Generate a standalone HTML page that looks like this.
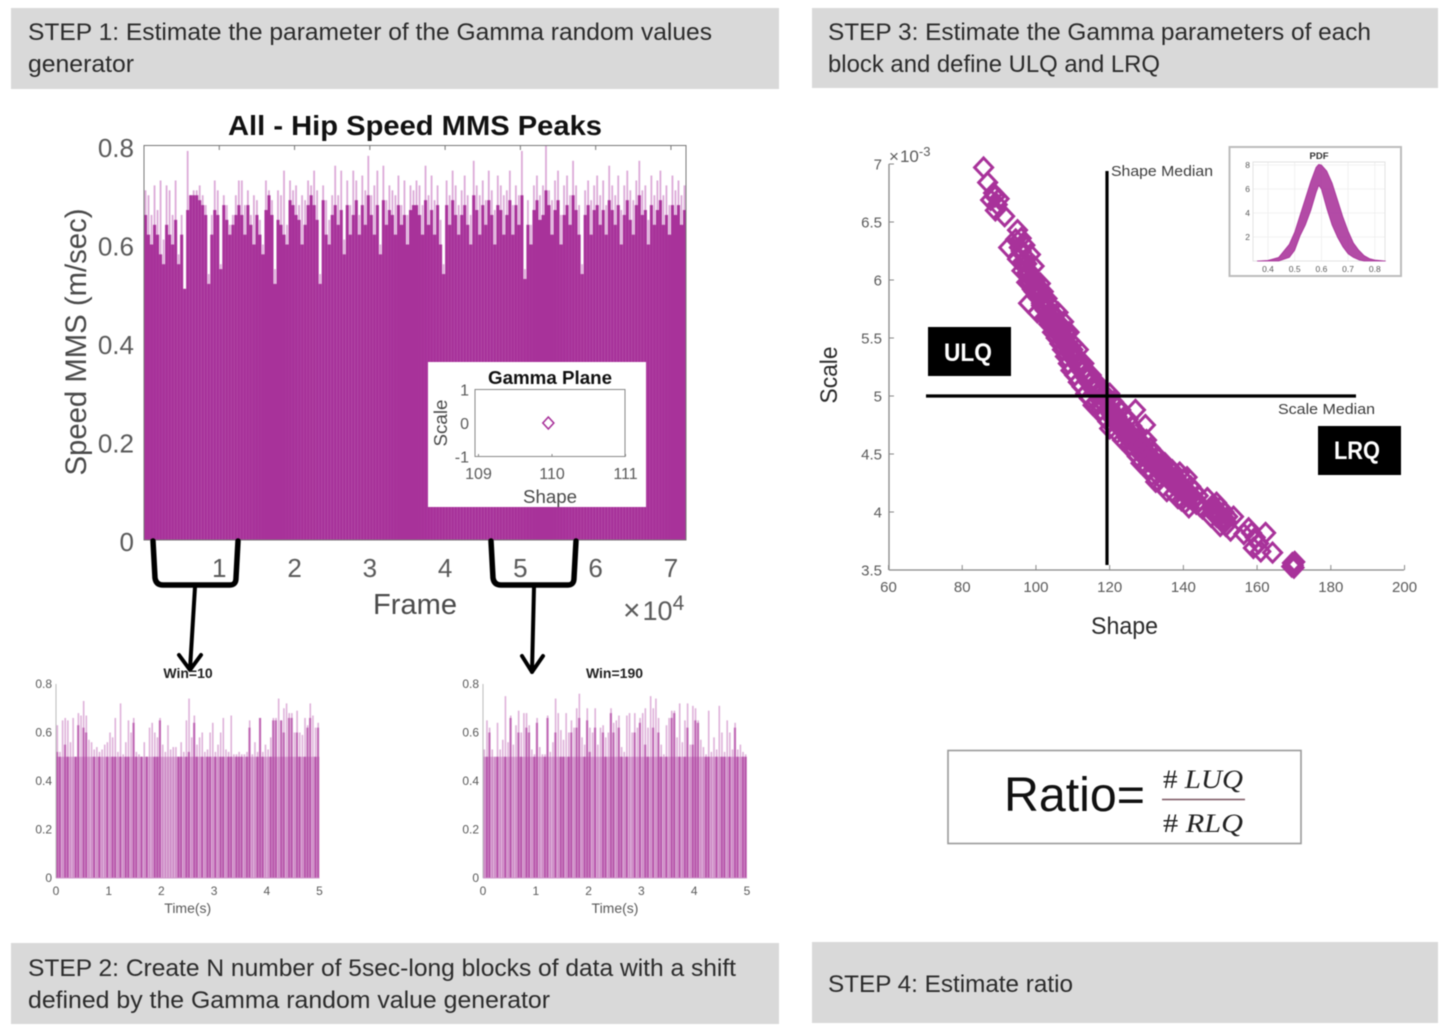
<!DOCTYPE html>
<html lang="en">
<head>
<meta charset="utf-8">
<title>Gamma ratio estimation steps</title>
<style>
html,body{margin:0;padding:0;background:#fff;width:1445px;height:1034px;overflow:hidden}
svg{display:block;filter:blur(.45px);font-family:"Liberation Sans",sans-serif}
.step{font-size:24px;fill:#2b2b2b}
.tick{fill:#5a5a5a}
</style>
</head>
<body>
<svg id="figure" xmlns="http://www.w3.org/2000/svg" width="1445" height="1034" viewBox="0 0 1445 1034">
  <rect x="0" y="0" width="1445" height="1034" fill="#fff"/>

  <g>
    <rect x="11" y="8" width="768" height="81" fill="#d9d9d9"/>
    <text class="step" x="28" y="40" textLength="684" lengthAdjust="spacingAndGlyphs">STEP 1:  Estimate the parameter of the Gamma random values</text>
    <text class="step" x="28" y="72" textLength="106" lengthAdjust="spacingAndGlyphs">generator</text>
  </g>
  <g>
    <rect x="812" y="8" width="626" height="80" fill="#d9d9d9"/>
    <text class="step" x="828" y="40" textLength="543" lengthAdjust="spacingAndGlyphs">STEP 3:  Estimate the Gamma parameters of each</text>
    <text class="step" x="828" y="72" textLength="332" lengthAdjust="spacingAndGlyphs">block and define ULQ and LRQ</text>
  </g>
  <g>
    <rect x="11" y="943" width="768" height="81" fill="#d9d9d9"/>
    <text class="step" x="28" y="976" textLength="708" lengthAdjust="spacingAndGlyphs">STEP 2:  Create N number of 5sec-long blocks of data with a shift</text>
    <text class="step" x="28" y="1008" textLength="522" lengthAdjust="spacingAndGlyphs">defined by the Gamma random value generator</text>
  </g>
  <g>
    <rect x="812" y="942" width="626" height="81" fill="#d9d9d9"/>
    <text class="step" x="828" y="992" textLength="245" lengthAdjust="spacingAndGlyphs">STEP 4:  Estimate ratio</text>
  </g>

  <g id="main-chart">
    <g id="main-marks"></g>
    <rect x="144" y="145.5" width="542" height="394.5" fill="none" stroke="#777" stroke-width="1"/>
    <g id="main-axes"></g>
    <text x="415" y="135" text-anchor="middle" font-size="28" font-weight="bold" fill="#111" textLength="374" lengthAdjust="spacingAndGlyphs">All - Hip Speed MMS Peaks</text>
    <text transform="translate(86,342) rotate(-90)" text-anchor="middle" font-size="30" fill="#4a4a4a" textLength="267" lengthAdjust="spacingAndGlyphs">Speed MMS (m/sec)</text>
    <text x="415" y="614" text-anchor="middle" font-size="29" fill="#4a4a4a" textLength="84" lengthAdjust="spacingAndGlyphs">Frame</text>
    <text x="623" y="620" font-size="27" fill="#5a5a5a"><tspan font-size="30">×</tspan><tspan dx="2">10</tspan><tspan dy="-10" font-size="21">4</tspan></text>
  </g>

  <g>
    <rect x="428" y="362" width="218" height="145" fill="#fff"/>
    <text x="550" y="384" text-anchor="middle" font-size="18" font-weight="bold" fill="#111" textLength="124" lengthAdjust="spacingAndGlyphs">Gamma Plane</text>
    <rect x="475" y="389.5" width="150" height="67" fill="none" stroke="#888" stroke-width="1"/>
    <g id="gamma-axes"></g>
    <g id="gamma-marks"></g>
    <text x="550" y="503" text-anchor="middle" font-size="18" fill="#4a4a4a" textLength="54" lengthAdjust="spacingAndGlyphs">Shape</text>
    <text transform="translate(447,423) rotate(-90)" text-anchor="middle" font-size="18" fill="#4a4a4a" textLength="47" lengthAdjust="spacingAndGlyphs">Scale</text>
  </g>

  <g fill="none" stroke="#000" stroke-linecap="round" stroke-linejoin="round">
    <path stroke-width="5.5" d="M153 541 L155 578 Q156 585 163 585 L230 585 Q236 585 236 578 L238 541"/>
    <path stroke-width="5.5" d="M491 541 L493 578 Q494 585 501 585 L568 585 Q574 585 574 578 L576 541"/>
    <path stroke-width="4" d="M195 587 L190 669 M179 655 L190 670 L201 655"/>
    <path stroke-width="4" d="M534 587 L532 672 M522 656 L532 672 L543 656"/>
  </g>

  <g id="win10-chart"></g>
  <g id="win190-chart"></g>
  <text x="188" y="678" text-anchor="middle" font-size="14" font-weight="bold" fill="#222">Win=10</text>
  <text x="614.5" y="678" text-anchor="middle" font-size="14" font-weight="bold" fill="#222">Win=190</text>

  <g id="scatter-chart">
    <g id="scatter-axes"></g>
    <g id="scatter-marks"></g>
    <line x1="1107" y1="171" x2="1107" y2="565" stroke="#000" stroke-width="3.2"/>
    <line x1="926" y1="396" x2="1356" y2="396" stroke="#000" stroke-width="3.2"/>
    <text x="1111" y="176" font-size="15" fill="#3d3d3d" textLength="102" lengthAdjust="spacingAndGlyphs">Shape Median</text>
    <text x="1278" y="414" font-size="15" fill="#3d3d3d" textLength="97" lengthAdjust="spacingAndGlyphs">Scale Median</text>
    <text x="889" y="162" font-size="17" fill="#5a5a5a"><tspan>×</tspan><tspan dx="1">10</tspan><tspan dy="-6" font-size="13">-3</tspan></text>
    <text transform="translate(837,375) rotate(-90)" text-anchor="middle" font-size="24" fill="#2b2b2b" textLength="57" lengthAdjust="spacingAndGlyphs">Scale</text>
    <text x="1124.5" y="634" text-anchor="middle" font-size="24" fill="#2b2b2b" textLength="67" lengthAdjust="spacingAndGlyphs">Shape</text>
    <g>
      <rect x="928" y="327" width="83" height="49" fill="#000"/>
      <text x="968" y="361" text-anchor="middle" font-size="25" font-weight="bold" fill="#fff" textLength="48" lengthAdjust="spacingAndGlyphs">ULQ</text>
    </g>
    <g>
      <rect x="1318" y="426" width="83" height="49" fill="#000"/>
      <text x="1357" y="459" text-anchor="middle" font-size="25" font-weight="bold" fill="#fff" textLength="46" lengthAdjust="spacingAndGlyphs">LRQ</text>
    </g>
  </g>

  <g id="pdf-chart">
    <rect x="1229.5" y="147" width="171.5" height="129" fill="#fff" stroke="#bdbdbd" stroke-width="2"/>
    <text x="1319" y="159" text-anchor="middle" font-size="9.5" font-weight="bold" fill="#333">PDF</text>
    <g id="pdf-axes"></g>
    <g id="pdf-marks"></g>
  </g>

  <g>
    <rect x="948" y="750.5" width="353" height="93" fill="#fff" stroke="#9a9a9a" stroke-width="1.6"/>
    <text x="1004" y="811" font-size="48" fill="#111" textLength="141" lengthAdjust="spacingAndGlyphs">Ratio=</text>
    <line x1="1162" y1="799.5" x2="1245" y2="799.5" stroke="#7a5560" stroke-width="1.5"/>
    <text x="1163" y="788" font-size="26" fill="#222" font-family="'Liberation Serif',serif" textLength="80" lengthAdjust="spacingAndGlyphs"># <tspan font-style="italic">LUQ</tspan></text>
    <text x="1163" y="832" font-size="26" fill="#222" font-family="'Liberation Serif',serif" textLength="80" lengthAdjust="spacingAndGlyphs"># <tspan font-style="italic">RLQ</tspan></text>
  </g>
</svg>

<script>
// ---- main chart data (m/s), one value per 400-frame bin ----
const mainBinFrames = 400;
const mainXTicks = [1, 2, 3, 4, 5, 6, 7];
const mainYTicks = [0, 0.2, 0.4, 0.6, 0.8];
const mainPeaks = [
.71,.70,.66,.72,.67,.73,.61,.72,.71,.66,.73,.58,.66,.51,.79,.70,.71,.71,.72,.70,.68,.54,.66,.73,.71,.56,.70,.68,.64,.66,
.70,.73,.73,.68,.71,.66,.70,.69,.65,.60,.73,.71,.69,.55,.71,.70,.75,.64,.73,.71,.72,.68,.70,.69,.73,.72,.75,.71,.54,.72,
.69,.65,.70,.76,.70,.75,.61,.73,.68,.75,.73,.66,.74,.71,.78,.70,.72,.75,.60,.76,.69,.72,.71,.70,.74,.68,.73,.66,.72,.71,
.73,.72,.68,.76,.70,.74,.69,.72,.65,.56,.73,.70,.75,.72,.68,.71,.74,.70,.66,.77,.72,.70,.73,.69,.75,.71,.67,.74,.72,.70,
.71,.75,.68,.72,.70,.79,.55,.69,.64,.72,.74,.70,.72,.80,.71,.69,.73,.75,.66,.72,.74,.70,.77,.72,.68,.56,.71,.73,.69,.72,
.74,.70,.73,.68,.76,.72,.70,.74,.67,.72,.75,.71,.69,.73,.77,.71,.72,.65,.74,.70,.73,.75,.70,.72,.68,.74,.71,.73,.70,.72];
const mainDense = [
.66,.62,.60,.64,.62,.58,.56,.64,.62,.60,.65,.56,.62,.51,.67,.70,.70,.70,.69,.68,.66,.52,.62,.67,.66,.55,.68,.65,.62,.64,
.66,.68,.66,.62,.68,.64,.60,.66,.62,.58,.67,.70,.66,.52,.65,.64,.62,.60,.69,.68,.66,.65,.60,.64,.68,.70,.68,.65,.52,.69,
.62,.60,.66,.68,.64,.67,.58,.68,.62,.66,.69,.62,.68,.64,.70,.66,.62,.68,.58,.69,.64,.67,.66,.62,.68,.64,.66,.60,.67,.68,
.68,.66,.62,.69,.64,.67,.62,.68,.60,.54,.68,.64,.69,.66,.62,.66,.68,.64,.60,.70,.67,.62,.68,.64,.69,.66,.60,.68,.67,.62,
.66,.69,.62,.68,.64,.70,.53,.64,.60,.67,.69,.65,.66,.71,.68,.62,.67,.69,.60,.66,.68,.64,.70,.67,.62,.54,.66,.68,.62,.67,
.68,.64,.67,.62,.69,.67,.64,.68,.60,.66,.69,.65,.62,.68,.70,.66,.67,.60,.68,.64,.67,.69,.64,.66,.62,.68,.66,.68,.64,.67];

// ---- gamma plane inset ----
const gammaXTicks = [109, 110, 111];
const gammaYTicks = [-1, 0, 1];
const gammaShape = [109.95];
const gammaScale = [0];

// ---- 5 s windows, one value per 0.05 s ----
const windowBinSeconds = 0.05;
const windowFloor = [0.5];
const windowXTicks = [0, 1, 2, 3, 4, 5];
const windowYTicks = [0, 0.2, 0.4, 0.6, 0.8];
const win10Peaks = [
.63,.52,.65,.66,.65,.56,.66,.50,.68,.67,.73,.67,.57,.56,.53,.54,.52,.53,.55,.56,
.60,.58,.66,.52,.72,.51,.56,.65,.60,.66,.52,.51,.50,.56,.50,.62,.64,.60,.58,.66,
.55,.52,.63,.53,.54,.54,.50,.56,.52,.65,.74,.58,.67,.55,.58,.60,.52,.53,.60,.64,
.52,.55,.60,.66,.53,.52,.67,.51,.51,.52,.51,.51,.52,.65,.51,.56,.52,.66,.52,.55,
.53,.58,.66,.66,.74,.65,.70,.72,.68,.68,.60,.69,.60,.59,.66,.63,.72,.67,.62,.64];
const win10Dense = [
.52,.50,0,.55,.50,0,0,.50,.63,0,.62,.60,0,0,.50,0,.50,0,0,.50,
0,.50,.50,0,.50,0,.50,.50,0,.64,.50,0,.50,0,.50,0,0,.50,.50,.65,
0,0,0,0,0,0,.50,.50,0,.50,.52,0,.64,.50,0,.50,0,.50,.50,0,
.50,0,.50,.50,0,.50,.50,0,.50,.50,.50,0,.50,.62,0,0,.50,.66,.50,0,
0,.50,.65,.65,0,.65,.60,0,.66,.66,0,.60,.50,0,.50,.62,.66,0,.50,.62];
const win190Peaks = [
.53,.65,.62,.53,.50,.64,.53,.57,.75,.56,.67,.55,.63,.69,.60,.68,.68,.63,.53,.51,
.66,.54,.51,.51,.67,.52,.56,.74,.68,.61,.57,.68,.60,.65,.62,.70,.76,.58,.55,.70,
.62,.60,.70,.55,.62,.63,.58,.60,.70,.64,.65,.67,.54,.52,.67,.68,.60,.68,.62,.66,
.68,.70,.62,.75,.70,.74,.66,.55,.51,.63,.66,.69,.69,.58,.72,.56,.65,.72,.55,.71,
.70,.65,.57,.54,.51,.69,.52,.58,.53,.71,.60,.52,.65,.60,.53,.64,.53,.55,.52,.51];
const win190Dense = [
0,.50,.60,0,0,.50,0,0,.50,0,.66,0,0,.60,.50,0,.62,.60,0,.50,
.64,0,0,.50,.66,0,0,.60,0,.50,.50,0,.50,.60,0,.62,.66,0,.50,.65,
.52,0,.62,0,0,.60,.50,0,.68,.60,0,.62,.50,0,.50,0,0,.60,0,.64,
0,.55,.50,0,.62,0,.60,.50,0,.50,0,.66,.68,0,.50,0,.50,.62,0,.55,
.65,.64,0,0,.50,.50,0,0,.50,0,.50,.50,0,.50,0,.62,.50,0,.50,.50];

// ---- scatter: gamma parameters of each block (scale in 1e-3 units) ----
const scatterXTicks = [60, 80, 100, 120, 140, 160, 180, 200];
const scatterYTicks = [3.5, 4, 4.5, 5, 5.5, 6, 6.5, 7];
const scatterShape = [
85.8,86.9,88.5,87.7,89.0,88.9,90.0,89.5,91.5,95.0,94.5,92.6,95.5,96,96.5,95,97,97.5,96.2,98.5,
98,99.5,97.5,100,101.2,99,101,98,102,100.4,103,101.5,104,102.5,105,103.5,106,104.5,106.5,105.5,
107.5,106.5,108,107.2,109,108,110,108.8,110.5,109.5,111.5,110.5,112,111.5,113,112.5,114,113.5,115,114.5,
116,115.5,117,116.5,118,117.5,119,118.5,120,119.5,121,120,122,121,123,122,124,123.5,125,124.5,
126,125.5,127,127,126.5,128,127.5,129.7,129,128.5,130,130,131,130.5,132,131.5,133,132.5,134,133.5,
135,134.5,136,135.5,137,136.5,138,137.5,139,138.5,140,139.5,141,140.5,142,141.5,143,142.5,144,145.2,
146.5,148,147.5,149,149,150,150.5,151,150,152,151.5,152.8,153.6,157.7,156.4,158.5,159,160.4,159.5,162.3,
161,164.2,169.6,169.8,170,169.4,170.2,
96,96.5,97,97.5,98,98.5,99,99.5,100,100.5,101,101.5,102,102.5,103,103.5,104,104.5,105,105.5,
106,106.5,107,107.5,108,108.5,109,109.5,110,110.5,111,111.5,112,112.5,113,113.5,114,114.5,115,115.5,
116,116.5,117,117.5,118,118.5,119,119.5,120,120.5,121,121.5,122,122.5,123,123.5,124,124.5,125,125.5,
126,126.5,127,127.5,128,128.5,129,129.5,130,130.5,131,131.5,132,132.5,133,133.5,134,134.5,135,135.5,
136,136.5,137,137.5,138,138.5,139,139.5,140,140.5,141,141.5,142,142.5,143,143.5,144,144.5,
148,148.5,149,149.5,150,150.5,151,151.5];
const scatterScale = [
6.97,6.84,6.75,6.69,6.60,6.72,6.70,6.65,6.55,6.43,6.35,6.28,6.28,6.36,6.22,6.18,6.30,6.14,6.08,6.22,
6.05,6.12,5.98,6.0,5.97,5.92,5.88,5.80,5.90,5.72,5.84,5.78,5.78,5.68,5.70,5.62,5.72,5.55,5.62,5.50,
5.64,5.45,5.55,5.40,5.55,5.34,5.45,5.28,5.36,5.22,5.40,5.18,5.30,5.12,5.28,5.08,5.20,5.02,5.18,4.98,
5.10,4.92,5.10,4.95,5.04,4.88,5.0,4.82,5.02,4.78,4.95,4.72,4.90,4.80,4.88,4.68,4.82,4.62,4.80,4.68,
4.74,4.58,4.88,4.70,4.52,4.62,4.48,4.75,4.58,4.42,4.62,4.46,4.55,4.38,4.50,4.32,4.48,4.26,4.42,4.30,
4.42,4.22,4.38,4.18,4.36,4.28,4.30,4.16,4.34,4.12,4.28,4.10,4.30,4.08,4.22,4.04,4.18,4.10,4.14,4.03,
4.12,4.06,3.96,4.08,3.96,4.04,3.92,4.00,3.88,3.96,3.88,3.84,3.96,3.86,3.81,3.82,3.69,3.73,3.78,3.82,
3.66,3.65,3.56,3.54,3.52,3.53,3.57,
6.25,6.16,6.16,6.06,6.08,5.98,6.0,5.9,5.95,5.85,5.88,5.8,5.83,5.74,5.76,5.68,5.72,5.62,5.65,5.58,
5.6,5.52,5.56,5.47,5.5,5.42,5.44,5.36,5.4,5.31,5.34,5.26,5.28,5.21,5.22,5.16,5.18,5.11,5.12,5.06,
5.08,5.02,5.02,4.96,5.0,4.93,4.96,4.88,4.9,4.84,4.86,4.78,4.82,4.74,4.76,4.7,4.74,4.65,4.7,4.62,
4.66,4.6,4.62,4.56,4.58,4.5,4.54,4.48,4.52,4.44,4.48,4.42,4.44,4.38,4.42,4.36,4.38,4.32,4.36,4.3,
4.32,4.26,4.3,4.24,4.26,4.2,4.24,4.18,4.22,4.15,4.18,4.12,4.14,4.1,4.12,4.07,4.08,4.05,
4.02,3.98,4.0,3.95,3.98,3.94,3.95,3.92];

// ---- PDF inset: spread of the fitted densities ----
const pdfXTicks = [0.4, 0.5, 0.6, 0.7, 0.8];
const pdfYTicks = [2, 4, 6, 8];
const pdfX = [.36,.40,.44,.48,.50,.52,.54,.56,.58,.59,.60,.62,.64,.66,.68,.70,.72,.74,.76,.78,.80,.84];
const pdfUpper = [0,.05,.30,1.4,2.4,3.8,5.2,6.6,7.8,8.05,8.0,7.5,6.5,5.1,3.7,2.5,1.5,.9,.45,.2,.08,0];
const pdfLower = [0,0,0,.3,.9,2.1,3.0,4.2,5.7,6.3,6.0,4.4,3.0,2.0,1.2,.6,.3,.1,0,0,0,0];

// ---- axis functions ----
const xMain = f => 144 + f * 542 / 72000;
const yMain = v => 540 - v * 492.5;
const xGamma = v => 552 + (v - 110) * 73.5;
const yGamma = v => 423 - v * 33.5;
const yWindow = v => 878 - v * 242.5;
const xScatter = v => 888.5 + (v - 60) * 3.686;
const yScatter = v => 396 - (v - 5) * 116;
const xPdf = v => 1268 + (v - 0.4) * 267;
const yPdf = v => 261 - v * 12;

const PURPLE = '#a8329a';
const NS = 'http://www.w3.org/2000/svg';
function make(tag, attrs, parent, text) {
  const node = document.createElementNS(NS, tag);
  for (const k in attrs) node.setAttribute(k, attrs[k]);
  if (text !== undefined) node.textContent = text;
  parent.appendChild(node);
  return node;
}

// main chart
const mainMarks = document.getElementById('main-marks');
mainPeaks.forEach((v, i) => {
  const r = make('rect', {x: xMain(i * mainBinFrames) + 0.6, y: yMain(v), width: 1.8, height: 540 - yMain(v), fill: '#dcaad8'}, mainMarks);
  
  
});
mainDense.forEach((v, i) => {
  const r = make('rect', {x: xMain(i * mainBinFrames), y: yMain(v), width: 3.05, height: 540 - yMain(v), fill: PURPLE}, mainMarks);
  
  
});
const mainAxes = document.getElementById('main-axes');
mainXTicks.forEach(t => {
  const x = xMain(t * 10000);
  const m = make('line', {x1: x, y1: 145.5, x2: x, y2: 150, stroke: '#777'}, mainAxes);
  
  
  const l = make('text', {x: x, y: 577, 'text-anchor': 'middle', 'font-size': 26, class: 'tick'}, mainAxes, String(t));
  
  
});
mainYTicks.forEach(t => {
  const l = make('text', {x: 134, y: yMain(t) + 11, 'text-anchor': 'end', 'font-size': 26, class: 'tick'}, mainAxes, String(t));
  
  
});

// gamma plane
const gammaAxes = document.getElementById('gamma-axes');
gammaXTicks.forEach(t => {
  const x = xGamma(t);
  const m = make('line', {x1: x, y1: 456.5, x2: x, y2: 454, stroke: '#888'}, gammaAxes);
  
  
  const l = make('text', {x: x, y: 479, 'text-anchor': 'middle', 'font-size': 16, class: 'tick'}, gammaAxes, String(t));
  
  
});
gammaYTicks.forEach(t => {
  const l = make('text', {x: 469, y: yGamma(t) + 6, 'text-anchor': 'end', 'font-size': 16, class: 'tick'}, gammaAxes, String(t));
  
  
});
const gammaMarks = document.getElementById('gamma-marks');
gammaShape.forEach((s, i) => {
  const cx = xGamma(s), cy = yGamma(gammaScale[i]);
  const p = make('polygon', {points: `${cx},${cy - 6} ${cx + 5.5},${cy} ${cx},${cy + 6} ${cx - 5.5},${cy}`, fill: 'none', stroke: PURPLE, 'stroke-width': 1.6}, gammaMarks);
  
  
});

// window charts
function drawWindow(hostId, x0, x5, peaks, dense, prefix) {
  const host = document.getElementById(hostId);
  const xW = t => x0 + t * (x5 - x0) / 5;
  const w = windowBinSeconds * (x5 - x0) / 5;
  const floor = make('rect', {x: x0, y: yWindow(windowFloor[0]), width: x5 - x0, height: 878 - yWindow(windowFloor[0]), fill: PURPLE, 'fill-opacity': 0.33}, host);
  
  
  peaks.forEach((v, i) => {
    const r = make('rect', {x: xW(i * windowBinSeconds) + w * 0.2, y: yWindow(v), width: w * 0.6, height: 878 - yWindow(v), fill: PURPLE, 'fill-opacity': 0.38}, host);
    
    
  });
  dense.forEach((v, i) => {
    if (!v) return;
    const r = make('rect', {x: xW(i * windowBinSeconds), y: yWindow(v), width: w * 0.85, height: 878 - yWindow(v), fill: PURPLE, 'fill-opacity': 0.6}, host);
    
    
  });
  const yAxis = make('line', {x1: x0, y1: yWindow(0.8), x2: x0, y2: 878, stroke: '#bbb', 'stroke-width': 1}, host);
  
  
  const xAxis = make('line', {x1: x0, y1: 878, x2: x5, y2: 878, stroke: '#cf9acb', 'stroke-width': 1}, host);
  
  
  windowXTicks.forEach(t => {
    const l = make('text', {x: xW(t), y: 895, 'text-anchor': 'middle', 'font-size': 12, class: 'tick'}, host, String(t));
    
    
  });
  windowYTicks.forEach(t => {
    const l = make('text', {x: x0 - 4, y: yWindow(t) + 4, 'text-anchor': 'end', 'font-size': 12, class: 'tick'}, host, String(t));
    
    
  });
  const title = make('text', {x: (x0 + x5) / 2, y: 913, 'text-anchor': 'middle', 'font-size': 14, class: 'tick'}, host, 'Time(s)');
  
  
}
drawWindow('win10-chart', 56, 319.5, win10Peaks, win10Dense, 'win-10');
drawWindow('win190-chart', 483, 747, win190Peaks, win190Dense, 'win-190');

// scatter
const scatterAxes = document.getElementById('scatter-axes');
const sy = make('line', {x1: 889, y1: 164, x2: 889, y2: 570, stroke: '#888', 'stroke-width': 1.3}, scatterAxes);


const sx = make('line', {x1: 889, y1: 570, x2: 1404, y2: 570, stroke: '#888', 'stroke-width': 1.3}, scatterAxes);


scatterXTicks.forEach(t => {
  const x = xScatter(t);
  const m = make('line', {x1: x, y1: 570, x2: x, y2: 565, stroke: '#888'}, scatterAxes);
  
  
  const l = make('text', {x: x, y: 592, 'text-anchor': 'middle', 'font-size': 15, class: 'tick'}, scatterAxes, String(t));
  
  
});
scatterYTicks.forEach(t => {
  const y = yScatter(t);
  const m = make('line', {x1: 889, y1: y, x2: 894, y2: y, stroke: '#888'}, scatterAxes);
  
  
  const l = make('text', {x: 882, y: y + 5.5, 'text-anchor': 'end', 'font-size': 15, class: 'tick'}, scatterAxes, String(t));
  
  
});
const scatterMarks = document.getElementById('scatter-marks');
scatterShape.forEach((s, i) => {
  const cx = xScatter(s), cy = yScatter(scatterScale[i]);
  const p = make('polygon', {points: `${cx},${cy - 9.5} ${cx + 9},${cy} ${cx},${cy + 9.5} ${cx - 9},${cy}`, fill: 'none', stroke: PURPLE, 'stroke-width': 3}, scatterMarks);
  
  
});

// pdf inset
const pdfAxes = document.getElementById('pdf-axes');
pdfXTicks.forEach(t => {
  const x = xPdf(t);
  const g = make('line', {x1: x, y1: 162, x2: x, y2: 261, stroke: '#eee', 'stroke-width': 0.8}, pdfAxes);
  
  
  const l = make('text', {x: x, y: 272, 'text-anchor': 'middle', 'font-size': 8.5, class: 'tick'}, pdfAxes, String(t));
  
  
});
pdfYTicks.forEach(t => {
  const y = yPdf(t);
  const g = make('line', {x1: 1253, y1: y, x2: 1385, y2: y, stroke: '#eee', 'stroke-width': 0.8}, pdfAxes);
  
  
  const l = make('text', {x: 1250, y: y + 3, 'text-anchor': 'end', 'font-size': 8.5, class: 'tick'}, pdfAxes, String(t));
  
  
});
const pdfBox = make('rect', {x: 1253, y: 162, width: 132, height: 99, fill: 'none', stroke: '#ddd', 'stroke-width': 0.8}, pdfAxes);


const pdfMarks = document.getElementById('pdf-marks');
const upperPts = pdfX.map((x, i) => `${xPdf(x)},${yPdf(pdfUpper[i])}`);
const lowerPts = pdfX.map((x, i) => `${xPdf(x)},${yPdf(pdfLower[i])}`).reverse();
const band = make('polygon', {points: upperPts.concat(lowerPts).join(' '), fill: PURPLE, 'fill-opacity': 0.88, stroke: PURPLE, 'stroke-width': 0.8, 'stroke-linejoin': 'round'}, pdfMarks);


</script>
</body>
</html>
